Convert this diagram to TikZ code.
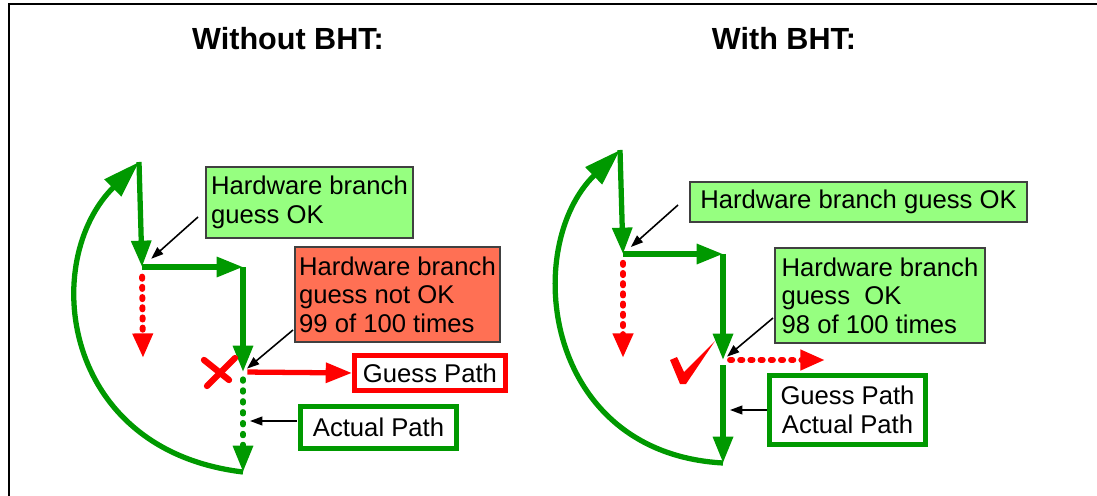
\documentclass[tikz,border=0pt]{standalone}
\usepackage{fontspec}
\setmainfont{Liberation Sans}
\usetikzlibrary{arrows.meta}

\definecolor{bhtgreen}{RGB}{0,153,0}
\definecolor{okfill}{RGB}{150,255,128}
\definecolor{badfill}{RGB}{255,112,84}

\tikzset{
  flow/.style={draw=bhtgreen, line width=3pt, -{Triangle[length=15pt,width=11pt]}},
  flowdot/.style={flow, line cap=round, dash pattern=on 1.2pt off 5pt},
  loopback/.style={draw=bhtgreen, line width=3pt, -{Triangle[length=21pt,width=13pt]}},
  miss/.style={draw=red, line width=3.4pt, line cap=round, dash pattern=on 1.2pt off 4.6pt, -{Triangle[length=14pt,width=11pt]}},
  wrong/.style={draw=red, line width=3pt, -{Triangle[length=15pt,width=11pt]}},
  note/.style={draw=black!75, line width=0.8pt, align=left, inner sep=2pt, font=\fontsize{14.6}{16.2}\selectfont},
  pathbox/.style={note, fill=white, line width=2.8pt},
  pointer/.style={draw=black, line width=0.9pt, -{Triangle[length=7pt,width=5pt]}},
  title/.style={font=\fontsize{17.4}{20}\selectfont\bfseries}
}

\begin{document}
\begin{tikzpicture}[x=0.02cm, y=-0.02cm]
  \useasboundingbox (0,0) rectangle (1097,496);
  \draw[line width=1.1pt] (9,496) -- (9,4) -- (1097,4);

  \node[title, anchor=base] (tWithout) at (288,50) {Without BHT:};
  \node[title, anchor=base] (tWith) at (784,50) {With BHT:};

  % without BHT
  \coordinate (L1) at (139,162);
  \coordinate (L2) at (142,267);
  \coordinate (L3) at (243,267);
  \coordinate (L4) at (243,372);
  \coordinate (L5) at (243,472);
  \coordinate (missL) at (143,358);

  \draw[flow] (L1) -- (L2);
  \draw[flow] (L2) -- (L3);
  \draw[flow] (L3) -- (L4);
  \draw[flowdot, shorten <=4pt] (L4) -- (L5);
  \draw[loopback] (L5) .. controls (60,450) and (40,260) .. (L1);
  \draw[miss, shorten <=5.5pt] (L2) -- (missL);

  \node[note, fill=okfill, minimum width=4.14cm, minimum height=1.42cm] (gokL) at (309.5,202.5) {Hardware branch\\guess OK};
  \node[note, fill=badfill, minimum width=4.10cm, minimum height=1.90cm] (nokL) at (397.5,294.5) {Hardware branch\\guess not OK\\99 of 100 times};
  \node[pathbox, draw=red, minimum width=3.02cm, minimum height=0.70cm] (guessL) at (430,373) {Guess Path};
  \node[pathbox, draw=bhtgreen, minimum width=3.12cm, minimum height=0.84cm] (actL) at (378.5,427.5) {Actual Path};

  \draw[wrong, shorten <=2.5pt] (L4) -- (guessL.west);

  \coordinate (pgL) at (198,217);
  \coordinate (pnL) at (293,330);
  \coordinate (paL) at (297,421);
  \coordinate (aL) at (243,421);
  \draw[pointer, shorten >=7pt] (pgL) -- (L2);
  \draw[pointer, shorten >=3pt] (pnL) -- (L4);
  \draw[pointer, shorten >=4pt] (paL) -- (aL);

  % red cross
  \draw[red, line width=3.6pt, line cap=round] (204,360) -- (229,380);
  \draw[red, line width=3.6pt, line cap=round] (207,386) -- (235,358);

  % with BHT
  \coordinate (R1) at (620,150);
  \coordinate (R2) at (623,254);
  \coordinate (R3) at (723,254);
  \coordinate (R4) at (723,360);
  \coordinate (R5) at (723,463);
  \coordinate (missR) at (623,358);
  \coordinate (sideR) at (825,360);

  \draw[flow] (R1) -- (R2);
  \draw[flow] (R2) -- (R3);
  \draw[flow] (R3) -- (R4);
  \draw[flow, shorten <=3pt] (R4) -- (R5);
  \draw[loopback] (R5) .. controls (543,453) and (521,247) .. (R1);
  \draw[miss, shorten <=5pt] (R2) -- (missR);
  \draw[miss, shorten <=4pt] (R4) -- (sideR);

  \node[note, fill=okfill, minimum width=6.74cm, minimum height=0.80cm] (gokR) at (858.5,202) {Hardware branch guess OK};
  \node[note, fill=okfill, minimum width=4.20cm, minimum height=1.90cm] (okR) at (880,295.5) {Hardware branch\\guess\ \ OK\\98 of 100 times};
  \node[pathbox, draw=bhtgreen, align=center, minimum width=3.12cm, minimum height=1.38cm] (bothR) at (847.5,410) {Guess Path\\Actual Path};

  \coordinate (pgR) at (678,205);
  \coordinate (pnR) at (773,318);
  \coordinate (bR) at (723,410);
  \draw[pointer, shorten >=6pt] (pgR) -- (R2);
  \draw[pointer, shorten >=3pt] (pnR) -- (R4);
  \draw[pointer, shorten >=4pt] (bothR.west) -- (bR);

  % check mark
  \fill[red] (670,360) -- (677,357) -- (684,372) -- (715,341) -- (686,384) -- (680,384) -- cycle;
\end{tikzpicture}
\end{document}
